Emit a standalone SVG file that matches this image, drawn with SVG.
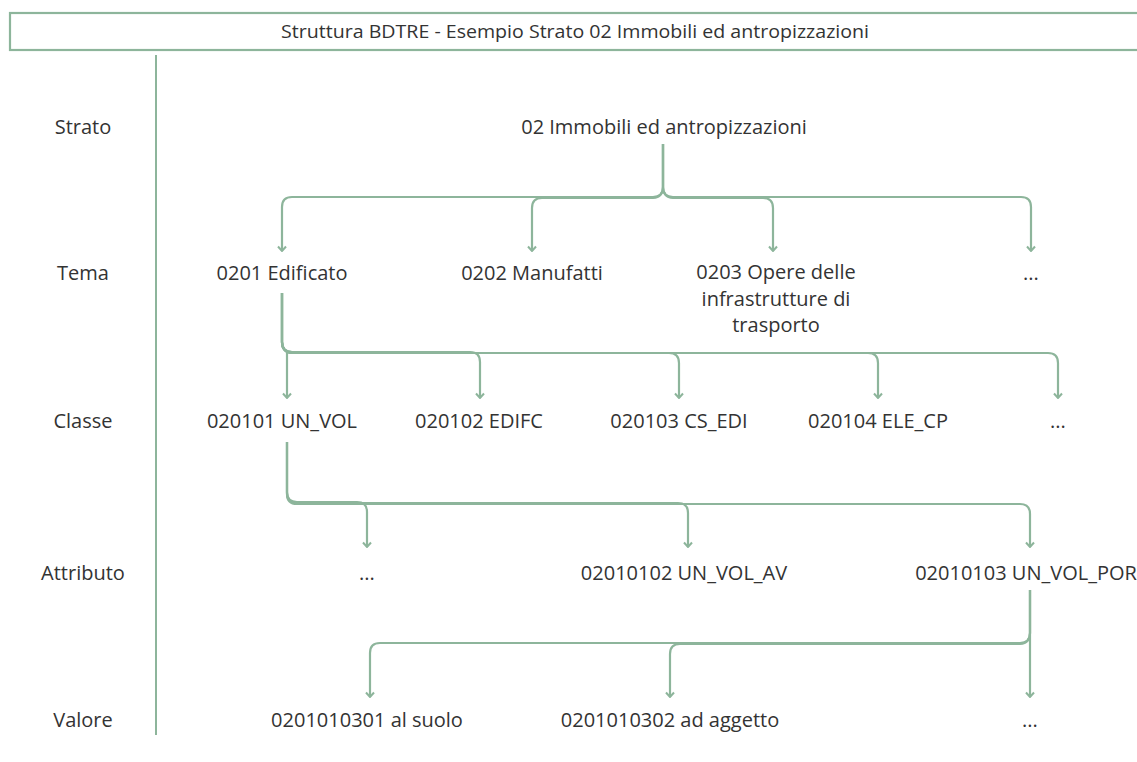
<svg xmlns="http://www.w3.org/2000/svg" width="1137" height="762" viewBox="0 0 1137 762">
  <defs>
    <style>
      .t { font-family: "Open Sans", "Liberation Sans", sans-serif; font-size: 20px; fill: #333333; text-anchor: middle; }
      .title { font-family: "Open Sans", "Liberation Sans", sans-serif; font-size: 18px; fill: #333333; text-anchor: middle; }
      .frame { fill: #ffffff; stroke: #8db59b; stroke-width: 2.2; }
      .rule { stroke: #8db59b; stroke-width: 2; fill: none; }
      .c { stroke: #8db59b; stroke-width: 2.2; fill: none; stroke-linejoin: round; }
      .ca { stroke: #8db59b; stroke-width: 2.2; fill: none; stroke-linejoin: round; marker-end: url(#tip); }
    </style>
    <marker id="tip" viewBox="0 0 10 10" refX="9" refY="5" markerWidth="10" markerHeight="10" markerUnits="userSpaceOnUse" orient="auto">
      <path d="M4.5,1 L9,5 L4.5,9" fill="none" stroke="#8db59b" stroke-width="2" stroke-linejoin="miter"/>
    </marker>
  </defs>

  <rect width="1137" height="762" fill="#ffffff"/>

  <!-- header band -->
  <g id="header">
    <rect class="frame" x="10" y="13" width="1140" height="37"/>
    <text class="title" x="575" y="38" textLength="588" lengthAdjust="spacingAndGlyphs">Struttura BDTRE - Esempio Strato 02 Immobili ed antropizzazioni</text>
  </g>

  <!-- level column -->
  <g id="levels">
    <line class="rule" x1="156" y1="55" x2="156" y2="735"/>
    <text class="t" x="83" y="134">Strato</text>
    <text class="t" x="83" y="280">Tema</text>
    <text class="t" x="83" y="428">Classe</text>
    <text class="t" x="83" y="580">Attributo</text>
    <text class="t" x="83" y="727">Valore</text>
  </g>

  <!-- connectors -->
  <g id="connectors">
    <!-- strato to temi -->
    <path class="ca" d="M663,144 V187 Q663,197 653,197 H292 Q282,197 282,207 V251"/>
    <path class="ca" d="M663,144 V187 Q663,197 653,198 H542 Q532,198 532,208 V251"/>
    <path class="ca" d="M663,144 V187 Q663,197 673,198 H763 Q773,198 773,208 V251"/>
    <path class="ca" d="M663,144 V187 Q663,197 673,197 H1021 Q1031,197 1031,207 V251"/>
    <!-- tema 0201 to classi -->
    <path class="c" d="M282,293 V342 Q282,352 292,352"/>
    <path class="ca" d="M287,352 V398"/>
    <path class="ca" d="M282,293 V342 Q282,352 292,352 H470 Q480,352 480,362 V398"/>
    <path class="ca" d="M282,293 V342 Q282,352 292,353 H669 Q679,353 679,363 V398"/>
    <path class="ca" d="M282,293 V342 Q282,352 292,353 H868 Q878,353 878,363 V398"/>
    <path class="ca" d="M282,293 V342 Q282,352 292,353 H1048 Q1058,353 1058,363 V398"/>
    <!-- classe 020101 to attributi -->
    <path class="ca" d="M287,442 V492 Q287,502 297,502 H357 Q367,502 367,512 V547"/>
    <path class="ca" d="M287,442 V493 Q287,503 297,503 H678 Q688,503 688,513 V547"/>
    <path class="ca" d="M287,442 V494 Q287,504 297,504 H1020 Q1030,504 1030,514 V547"/>
    <!-- attributo 02010103 to valori -->
    <path class="ca" d="M1030,590 V633 Q1030,643 1020,643 H380 Q370,643 370,653 V697"/>
    <path class="ca" d="M1030,590 V633 Q1030,643 1020,644 H680 Q670,644 670,654 V697"/>
    <path class="ca" d="M1030,590 V697"/>
  </g>

  <g id="strato-02">
    <text class="t" x="664" y="134">02 Immobili ed antropizzazioni</text>
  </g>

  <g id="tema-0201"><text class="t" x="282" y="280">0201 Edificato</text></g>
  <g id="tema-0202"><text class="t" x="532" y="280">0202 Manufatti</text></g>
  <g id="tema-0203">
    <text class="t" x="776" y="279">0203 Opere delle</text>
    <text class="t" x="776" y="306">infrastrutture di</text>
    <text class="t" x="776" y="332">trasporto</text>
  </g>
  <g id="tema-altri"><text class="t" x="1031" y="280">...</text></g>

  <g id="classe-020101"><text class="t" x="282" y="428">020101 UN_VOL</text></g>
  <g id="classe-020102"><text class="t" x="479" y="428">020102 EDIFC</text></g>
  <g id="classe-020103"><text class="t" x="679" y="428">020103 CS_EDI</text></g>
  <g id="classe-020104"><text class="t" x="878" y="428">020104 ELE_CP</text></g>
  <g id="classe-altri"><text class="t" x="1058" y="428">...</text></g>

  <g id="attributo-altri"><text class="t" x="367" y="580">...</text></g>
  <g id="attributo-02010102"><text class="t" x="684" y="580">02010102 UN_VOL_AV</text></g>
  <g id="attributo-02010103"><text class="t" x="1026" y="580">02010103 UN_VOL_POR</text></g>

  <g id="valore-0201010301"><text class="t" x="367" y="727">0201010301 al suolo</text></g>
  <g id="valore-0201010302"><text class="t" x="670" y="727">0201010302 ad aggetto</text></g>
  <g id="valore-altri"><text class="t" x="1030" y="727">...</text></g>
</svg>
